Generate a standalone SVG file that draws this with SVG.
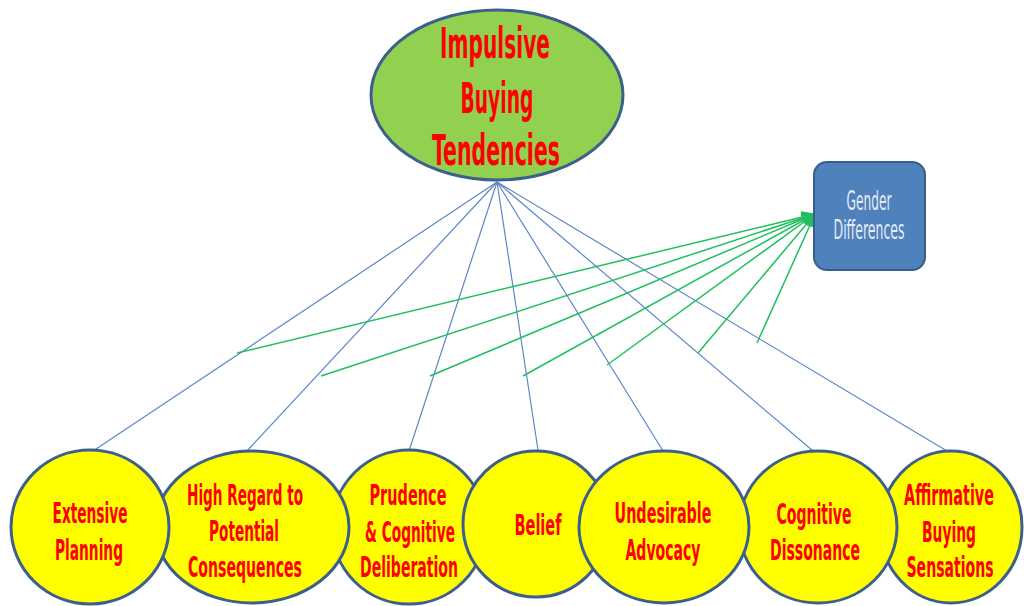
<svg xmlns="http://www.w3.org/2000/svg" width="1024" height="606" viewBox="0 0 1024 606">
<style>
.bg{fill:#ffffff}
.circ{fill:#ffff00;stroke:#3c5f8c;stroke-width:3}
.top{fill:#92d050;stroke:#3c5f8c;stroke-width:3}
.box{fill:#4f81bd;stroke:#385d8a;stroke-width:2}
.blue{stroke:#5b87c6;stroke-width:1.2;fill:none}
.green{stroke:#1fbf5f;stroke-width:1.5;fill:none}
.lbl{font-family:"Liberation Sans Narrow","DejaVu Sans Condensed","Liberation Sans",sans-serif;font-weight:bold;fill:#ff0000;text-anchor:middle}
.t1{font-size:32px}
.t2{font-size:22px}
.t3{font-size:18px}
.g{font-family:"Liberation Sans Narrow","DejaVu Sans Condensed","Liberation Sans",sans-serif;font-size:20px;fill:#e4ecf7;text-anchor:middle}
</style>
<defs>
<marker id="ah" markerUnits="userSpaceOnUse" markerWidth="14" markerHeight="12" viewBox="0 0 14 12" refX="13" refY="6" orient="auto">
<path d="M0,0 L14,6 L0,12 Z" fill="#1fbf5f"/>
</marker>
</defs>
<rect class="bg" x="0" y="0" width="1024" height="606"/>
<g id="connectors">
<line class="blue" x1="497" y1="182" x2="93" y2="451"/>
<line class="blue" x1="497" y1="182" x2="247" y2="451"/>
<line class="blue" x1="497" y1="182" x2="409" y2="451"/>
<line class="blue" x1="497" y1="182" x2="538" y2="450"/>
<line class="blue" x1="497" y1="182" x2="663" y2="451"/>
<line class="blue" x1="497" y1="182" x2="813" y2="451"/>
<line class="blue" x1="497" y1="182" x2="947" y2="451"/>
<line class="green" x1="237" y1="353" x2="815" y2="214" marker-end="url(#ah)"/>
<line class="green" x1="321" y1="376" x2="815" y2="214" marker-end="url(#ah)"/>
<line class="green" x1="430" y1="376" x2="815" y2="214" marker-end="url(#ah)"/>
<line class="green" x1="523" y1="376" x2="815" y2="214" marker-end="url(#ah)"/>
<line class="green" x1="607" y1="365" x2="815" y2="214" marker-end="url(#ah)"/>
<line class="green" x1="698" y1="353" x2="815" y2="214" marker-end="url(#ah)"/>
<line class="green" x1="757" y1="343" x2="815" y2="214" marker-end="url(#ah)"/>
</g>
<g id="impulsive-buying-tendencies">
<ellipse class="top" cx="497" cy="95" rx="126" ry="85"/>
<text class="lbl t1" transform="translate(495,58) scale(1,1.32)" textLength="110" lengthAdjust="spacingAndGlyphs">Impulsive</text>
<text class="lbl t1" transform="translate(497,113) scale(1,1.32)" textLength="73" lengthAdjust="spacingAndGlyphs">Buying</text>
<text class="lbl t1" transform="translate(496,165) scale(1,1.32)" textLength="128" lengthAdjust="spacingAndGlyphs">Tendencies</text>
</g>
<g id="gender-differences">
<rect class="box" x="814" y="162" width="111" height="108" rx="13" ry="13"/>
<text class="g" transform="translate(869,210) scale(1,1.3)" textLength="45" lengthAdjust="spacingAndGlyphs">Gender</text>
<text class="g" transform="translate(869,239) scale(1,1.3)" textLength="71" lengthAdjust="spacingAndGlyphs">Differences</text>
</g>
<g id="affirmative-buying-sensations">
<ellipse class="circ" cx="951" cy="527" rx="71" ry="76"/>
<text class="lbl t3" transform="translate(949,505) scale(1,1.6)" textLength="90" lengthAdjust="spacingAndGlyphs">Affirmative</text>
<text class="lbl t2" transform="translate(949,542) scale(1,1.32)" textLength="54" lengthAdjust="spacingAndGlyphs">Buying</text>
<text class="lbl t3" transform="translate(950,577) scale(1,1.6)" textLength="87" lengthAdjust="spacingAndGlyphs">Sensations</text>
</g>
<g id="cognitive-dissonance">
<ellipse class="circ" cx="818" cy="527" rx="79" ry="76"/>
<text class="lbl t2" transform="translate(814,524) scale(1,1.32)" textLength="75" lengthAdjust="spacingAndGlyphs">Cognitive</text>
<text class="lbl t2" transform="translate(815,560) scale(1,1.32)" textLength="90" lengthAdjust="spacingAndGlyphs">Dissonance</text>
</g>
<g id="prudence-cognitive-deliberation">
<ellipse class="circ" cx="409" cy="527" rx="77" ry="77"/>
<text class="lbl t2" transform="translate(408,505) scale(1,1.32)" textLength="77" lengthAdjust="spacingAndGlyphs">Prudence</text>
<text class="lbl t2" transform="translate(410,542) scale(1,1.32)" textLength="90" lengthAdjust="spacingAndGlyphs">&amp; Cognitive</text>
<text class="lbl t2" transform="translate(409,577) scale(1,1.32)" textLength="98" lengthAdjust="spacingAndGlyphs">Deliberation</text>
</g>
<g id="high-regard-to-potential-consequences">
<ellipse class="circ" cx="252" cy="527" rx="97" ry="76"/>
<text class="lbl t2" transform="translate(245,505) scale(1,1.32)" textLength="116" lengthAdjust="spacingAndGlyphs">High Regard to</text>
<text class="lbl t2" transform="translate(244,541) scale(1,1.32)" textLength="70" lengthAdjust="spacingAndGlyphs">Potential</text>
<text class="lbl t2" transform="translate(245,577) scale(1,1.32)" textLength="114" lengthAdjust="spacingAndGlyphs">Consequences</text>
</g>
<g id="extensive-planning">
<ellipse class="circ" cx="90" cy="527" rx="79" ry="77"/>
<text class="lbl t2" transform="translate(90,523) scale(1,1.32)" textLength="75" lengthAdjust="spacingAndGlyphs">Extensive</text>
<text class="lbl t2" transform="translate(89,560) scale(1,1.32)" textLength="68" lengthAdjust="spacingAndGlyphs">Planning</text>
</g>
<g id="belief">
<ellipse class="circ" cx="536" cy="524" rx="73" ry="73"/>
<text class="lbl t2" transform="translate(538,535) scale(1,1.32)" textLength="47" lengthAdjust="spacingAndGlyphs">Belief</text>
</g>
<g id="undesirable-advocacy">
<ellipse class="circ" cx="664" cy="527" rx="85" ry="76"/>
<text class="lbl t2" transform="translate(663,523) scale(1,1.32)" textLength="97" lengthAdjust="spacingAndGlyphs">Undesirable</text>
<text class="lbl t2" transform="translate(663,560) scale(1,1.32)" textLength="75" lengthAdjust="spacingAndGlyphs">Advocacy</text>
</g>
</svg>
